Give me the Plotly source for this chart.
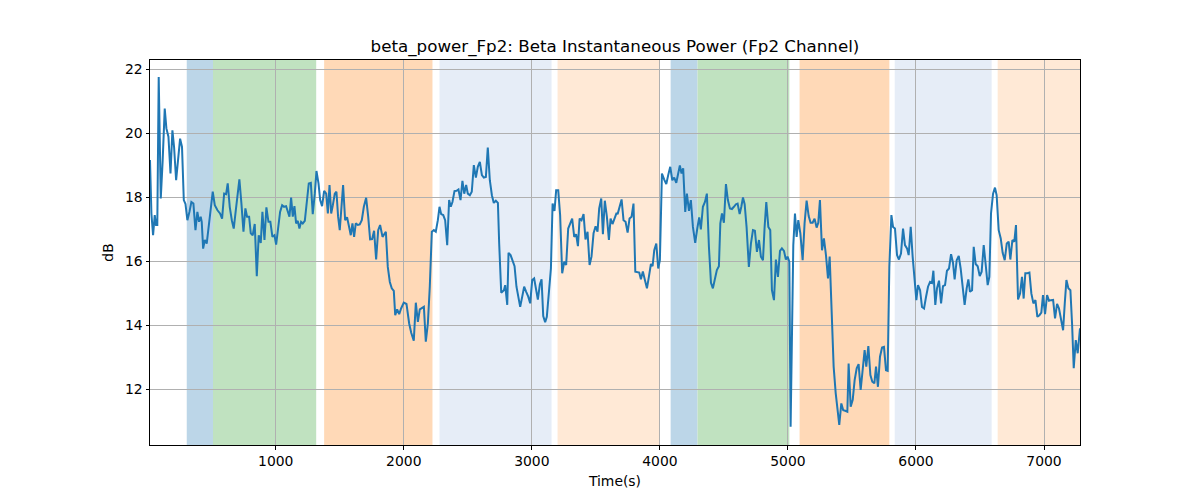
import plotly.graph_objects as go

time_s = [18, 29, 42, 55, 65, 75, 86, 102, 117, 133, 146, 162, 178, 193, 206, 222, 237, 253, 268, 282,
          295, 310, 326, 341, 357, 373, 388, 401, 414, 422, 433, 446, 461, 474, 490, 508, 524, 545, 565, 581,
          597, 612, 625, 641, 657, 672, 688, 703, 716, 732, 748, 763, 776, 792, 805, 820, 836, 852, 867, 883,
          896, 912, 927, 943, 958, 974, 990, 1003, 1019, 1034, 1050, 1065, 1081, 1094, 1107, 1120, 1133, 1146, 1159, 1172,
          1185, 1198, 1211, 1227, 1242, 1258, 1274, 1289, 1305, 1318, 1334, 1347, 1362, 1378, 1394, 1407, 1420, 1433, 1446, 1461,
          1474, 1487, 1500, 1513, 1526, 1542, 1557, 1573, 1586, 1599, 1612, 1625, 1641, 1656, 1672, 1688, 1706, 1722, 1737, 1753,
          1768, 1784, 1800, 1815, 1834, 1860, 1875, 1891, 1906, 1922, 1933, 1948, 1964, 1979, 2000, 2021, 2042, 2058, 2078, 2094,
          2110, 2125, 2141, 2157, 2172, 2188, 2203, 2219, 2235, 2250, 2266, 2279, 2292, 2308, 2323, 2339, 2354, 2367, 2380, 2396,
          2412, 2427, 2443, 2458, 2472, 2487, 2500, 2516, 2531, 2547, 2563, 2578, 2594, 2610, 2625, 2641, 2656, 2672, 2688, 2703,
          2719, 2735, 2745, 2761, 2782, 2792, 2808, 2818, 2834, 2849, 2865, 2880, 2896, 2909, 2925, 2940, 2956, 2972, 2987, 3003,
          3018, 3034, 3047, 3063, 3076, 3089, 3104, 3117, 3133, 3149, 3162, 3177, 3190, 3206, 3221, 3237, 3253, 3268, 3284, 3300,
          3315, 3331, 3346, 3360, 3373, 3388, 3404, 3419, 3435, 3451, 3466, 3482, 3498, 3513, 3526, 3542, 3555, 3570, 3586, 3602,
          3615, 3630, 3646, 3662, 3670, 3685, 3701, 3716, 3732, 3748, 3763, 3779, 3794, 3808, 3823, 3839, 3852, 3867, 3883, 3899,
          3914, 3930, 3943, 3956, 3972, 3987, 4000, 4016, 4034, 4050, 4065, 4081, 4097, 4112, 4128, 4143, 4156, 4169, 4182, 4198,
          4211, 4227, 4242, 4258, 4276, 4292, 4307, 4320, 4336, 4352, 4367, 4383, 4399, 4414, 4430, 4445, 4461, 4472, 4485, 4500,
          4516, 4531, 4547, 4563, 4578, 4594, 4607, 4623, 4636, 4649, 4662, 4677, 4695, 4711, 4727, 4742, 4758, 4774, 4789, 4805,
          4818, 4831, 4847, 4862, 4875, 4891, 4906, 4922, 4938, 4953, 4969, 4984, 4997, 5011, 5021, 5031, 5042, 5055, 5068, 5081,
          5097, 5115, 5130, 5146, 5162, 5177, 5193, 5208, 5224, 5237, 5250, 5266, 5281, 5297, 5313, 5326, 5341, 5357, 5373, 5388,
          5401, 5417, 5432, 5448, 5464, 5474, 5490, 5506, 5521, 5537, 5552, 5568, 5584, 5599, 5612, 5628, 5644, 5659, 5675, 5688,
          5703, 5719, 5735, 5750, 5766, 5779, 5792, 5808, 5821, 5836, 5852, 5867, 5883, 5899, 5914, 5930, 5943, 5959, 5974, 5987,
          6003, 6016, 6032, 6047, 6063, 6078, 6094, 6110, 6125, 6136, 6151, 6164, 6180, 6196, 6211, 6227, 6242, 6258, 6274, 6289,
          6302, 6318, 6334, 6349, 6365, 6380, 6396, 6409, 6422, 6438, 6451, 6466, 6482, 6498, 6513, 6529, 6544, 6560, 6573, 6586,
          6602, 6617, 6630, 6646, 6662, 6677, 6693, 6709, 6724, 6737, 6753, 6768, 6781, 6797, 6813, 6828, 6841, 6854, 6870, 6886,
          6901, 6917, 6933, 6948, 6964, 6979, 6992, 7008, 7024, 7039, 7055, 7071, 7086, 7102, 7117, 7133, 7149, 7162, 7175, 7190,
          7206, 7219, 7232, 7248, 7263, 7281]

power_db = [19.17, 17.5, 16.82, 17.45, 17.14, 17.14, 21.77, 17.97, 19.17, 20.78, 20.16, 19.9, 18.75, 20.1, 19.58, 18.54, 19.17, 19.84, 19.58, 17.92,
            17.8, 17.29, 17.55, 17.86, 17.81, 16.98, 17.55, 17.24, 17.4, 17.24, 16.4, 16.67, 16.56, 16.98, 17.6, 18.18, 17.76, 17.6, 17.5, 17.34,
            18.12, 18.1, 18.44, 17.7, 17.29, 17.03, 17.6, 18.12, 18.57, 17.81, 16.93, 17.66, 17.4, 17.4, 16.88, 16.82, 17.17, 15.54, 16.82, 16.58,
            17.55, 16.67, 17.69, 17.24, 17.24, 16.77, 16.82, 16.53, 17.08, 17.55, 17.76, 17.71, 17.73, 17.55, 17.4, 18.0, 17.4, 17.73, 17.19, 17.27,
            17.03, 17.24, 17.19, 17.27, 17.92, 18.44, 18.46, 17.48, 18.12, 18.83, 18.44, 17.92, 17.73, 18.21, 18.12, 17.5, 18.39, 17.5, 17.76, 18.12,
            18.18, 17.4, 16.98, 17.76, 18.39, 17.29, 17.38, 17.08, 16.82, 17.19, 16.77, 17.19, 17.14, 17.16, 17.29, 17.71, 17.99, 17.4, 16.69, 16.7,
            16.96, 16.06, 16.98, 17.14, 16.77, 16.93, 15.83, 15.36, 15.16, 15.08, 14.32, 14.5, 14.35, 14.53, 14.71, 14.67, 14.06, 13.77, 13.52, 14.71,
            14.11, 14.5, 14.53, 14.58, 13.49, 14.06, 15.21, 16.93, 16.98, 16.93, 17.29, 17.71, 17.48, 17.45, 17.29, 16.51, 17.92, 17.71, 17.86, 18.2,
            18.21, 18.25, 17.92, 18.52, 18.12, 18.39, 18.12, 18.07, 18.18, 19.01, 18.62, 18.96, 19.11, 18.7, 18.62, 18.64, 19.56, 18.54, 18.07, 17.83,
            17.9, 17.83, 16.56, 15.02, 15.1, 15.26, 14.64, 16.27, 16.2, 16.04, 15.85, 15.21, 14.81, 14.58, 14.9, 15.21, 15.05, 14.9, 14.69, 15.42,
            15.47, 15.1, 14.81, 15.29, 15.44, 14.29, 14.1, 14.27, 15.0, 15.78, 17.81, 17.58, 18.23, 18.23, 17.45, 15.63, 15.99, 15.89, 17.03, 17.19,
            17.34, 16.77, 16.85, 16.48, 17.34, 17.29, 17.48, 16.69, 16.93, 15.89, 16.15, 16.88, 17.1, 16.93, 17.66, 17.97, 16.85, 17.9, 17.4, 16.67,
            17.34, 17.17, 17.34, 17.52, 17.48, 17.71, 17.94, 17.29, 17.24, 16.9, 17.34, 17.4, 17.81, 15.68, 15.67, 15.65, 15.44, 15.69, 15.42, 15.16,
            15.52, 15.92, 15.85, 16.35, 16.56, 15.78, 16.04, 18.75, 18.56, 18.42, 18.7, 18.96, 18.54, 18.62, 18.46, 18.7, 19.0, 18.75, 18.91, 17.55,
            18.12, 17.58, 17.92, 17.08, 16.58, 17.03, 17.38, 17.0, 17.71, 17.86, 18.12, 16.46, 15.33, 15.16, 15.42, 15.73, 15.85, 17.19, 17.5, 17.21,
            18.42, 17.92, 17.66, 17.64, 17.71, 17.79, 17.81, 17.48, 17.71, 18.0, 17.79, 17.08, 15.83, 16.56, 16.98, 16.96, 16.3, 16.67, 16.15, 16.04,
            17.08, 17.86, 17.08, 16.98, 15.1, 14.79, 16.06, 15.52, 16.33, 16.41, 16.33, 16.06, 16.15, 15.99, 10.83, 13.33, 16.51, 17.5, 16.77, 17.29,
            16.88, 16.04, 17.19, 17.9, 17.42, 17.21, 17.21, 17.34, 17.06, 17.21, 17.92, 16.35, 16.72, 16.2, 15.47, 16.15, 14.17, 12.71, 11.88, 11.25,
            10.89, 11.56, 11.35, 11.33, 11.3, 12.81, 11.46, 11.67, 12.29, 12.66, 12.79, 11.98, 12.6, 13.23, 12.71, 13.35, 12.45, 12.24, 12.19, 12.71,
            12.08, 13.02, 13.31, 13.33, 12.6, 12.58, 15.83, 17.45, 17.08, 17.03, 16.2, 16.06, 16.25, 17.03, 16.51, 16.41, 16.2, 17.08, 16.15, 15.42,
            14.79, 15.26, 15.1, 14.58, 14.53, 14.88, 15.21, 15.36, 15.33, 15.71, 14.64, 15.16, 15.4, 14.69, 15.23, 15.26, 15.71, 15.78, 16.23, 15.96,
            15.44, 16.04, 16.17, 15.78, 15.1, 14.64, 15.16, 15.44, 15.05, 15.1, 16.46, 15.92, 15.85, 15.54, 15.68, 16.51, 15.92, 15.26, 15.52, 17.5,
            18.12, 18.31, 18.07, 16.98, 16.72, 16.27, 16.04, 16.56, 16.62, 16.06, 16.67, 16.62, 17.14, 14.81, 15.0, 15.52, 14.84, 15.63, 15.63, 15.65,
            15.0, 14.69, 14.79, 14.27, 14.32, 14.4, 14.95, 14.35, 14.95, 14.77, 14.79, 14.8, 14.22, 14.67, 14.53, 14.17, 13.85, 14.69, 15.42, 15.16,
            15.1, 14.06, 12.66, 13.54, 13.13, 13.91]

# shaded segments: (start, end, colour)
seg_start = [305, 510, 1378, 2279, 3201, 4084, 4294, 5091, 5834, 6638]
seg_end = [510, 1316, 2224, 3154, 4000, 4294, 5011, 5792, 6591, 7290]
seg_color = ["#bcd6e8", "#c0e2c0", "#ffd9b7", "#e6edf7", "#ffe9d6",
             "#bcd6e8", "#c0e2c0", "#ffd9b7", "#e6edf7", "#ffe9d6"]

x_ticks = [1000, 2000, 3000, 4000, 5000, 6000, 7000]
y_ticks = [12, 14, 16, 18, 20, 22]

fig = go.Figure()
fig.add_trace(go.Scatter(x=time_s, y=power_db, mode="lines",
                         line=dict(color="#1f77b4", width=2), showlegend=False))

for s, e, c in zip(seg_start, seg_end, seg_color):
    fig.add_shape(type="rect", xref="x", yref="paper", x0=s, x1=e, y0=0, y1=1,
                  fillcolor=c, line=dict(width=0), layer="below")

font_family = "DejaVu Sans"
fig.update_layout(
    width=1200, height=500,
    margin=dict(l=142, r=128, t=52, b=63),
    paper_bgcolor="white", plot_bgcolor="white",
    font=dict(family=font_family, size=13.9, color="black"),
    title=dict(text="beta_power_Fp2: Beta Instantaneous Power (Fp2 Channel)",
               x=0.5, xref="paper", xanchor="center", y=1 - 38/500, yanchor="middle",
               font=dict(size=16.7, family=font_family, color="black")),
    showlegend=False,
)
fig.update_xaxes(range=[18, 7281], tickvals=x_ticks, ticks="outside", ticklen=3.5, tickwidth=1,
                 tickcolor="black", showgrid=True, gridcolor="#b0b0b0", gridwidth=1,
                 showline=True, linecolor="black", linewidth=1, mirror=True, zeroline=False,
                 title=dict(text="Time(s)", font=dict(size=13.9), standoff=8))
fig.update_yaxes(range=[10.26, 22.30], tickvals=y_ticks, ticks="outside", ticklen=3.5, tickwidth=1,
                 tickcolor="black", showgrid=True, gridcolor="#b0b0b0", gridwidth=1,
                 showline=True, linecolor="black", linewidth=1, mirror=True, zeroline=False,
                 title=dict(text="dB", font=dict(size=13.9), standoff=8))

fig.write_html("out.html")
